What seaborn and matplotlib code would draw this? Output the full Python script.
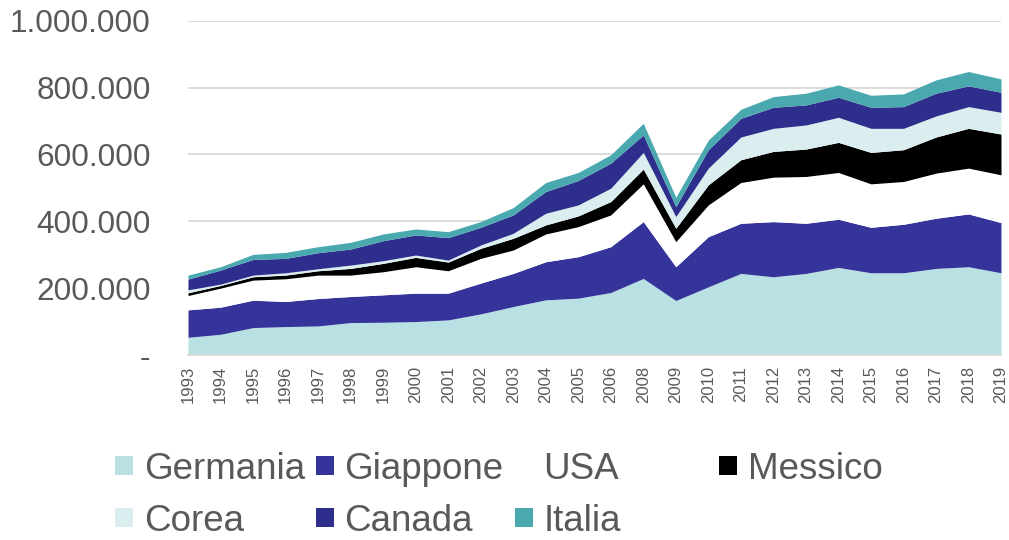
import numpy as np
import pandas as pd
import matplotlib
matplotlib.use('Agg')
import matplotlib.pyplot as plt
import seaborn as sns

# Values in thousands
years = ['1993', '1994', '1995', '1996', '1997', '1998', '1999', '2000', '2001',
         '2002', '2003', '2004', '2005', '2006', '2008', '2009', '2010', '2011',
         '2012', '2013', '2014', '2015', '2016', '2017', '2018', '2019']

germania = [53, 62, 82, 85, 87, 97, 98, 100, 105, 123, 145, 165, 170, 187, 229,
            163, 204, 244, 234, 244, 262, 246, 246, 259, 264, 246]
giappone = [82, 81, 82, 75, 82, 78, 82, 85, 80, 92, 99, 114, 124, 137, 170,
            101, 150, 150, 165, 150, 144, 136, 145, 150, 158, 150]
usa = [43, 57, 60, 68, 70, 64, 69, 79, 67, 74, 70, 83, 90, 95, 113,
       75, 95, 122, 133, 140, 140, 130, 128, 135, 137, 143]
messico = [8, 8, 10, 11, 13, 20, 25, 28, 26, 30, 35, 27, 32, 40, 44,
           40, 60, 68, 77, 82, 90, 94, 95, 108, 119, 122]
corea = [9, 4, 5, 7, 6, 10, 8, 7, 6, 10, 15, 35, 33, 40, 50,
         35, 50, 68, 69, 72, 75, 72, 64, 63, 65, 65]
canada = [32, 42, 47, 43, 48, 48, 60, 60, 67, 53, 55, 65, 73, 75, 52,
          30, 55, 56, 63, 60, 60, 63, 65, 68, 62, 60]
italia = [12, 10, 15, 18, 18, 20, 20, 18, 18, 17, 22, 27, 24, 25, 35,
          28, 29, 27, 32, 35, 37, 36, 38, 40, 43, 40]

countries = ['Germania', 'Giappone', 'USA', 'Messico', 'Corea', 'Canada', 'Italia']
colors = ['#B9E0E3', '#35349A', '#FFFFFF', '#000000', '#DAEEF0', '#2E2E8C', '#4AA8AF']

y_ticks = [0, 200, 400, 600, 800, 1000]
y_tick_labels = ['-', '200.000', '400.000', '600.000', '800.000', '1.000.000']

sns.set_theme(style='white')
plt.rcParams['font.family'] = ['Liberation Sans', 'DejaVu Sans']
text_grey = '#595959'
grid_grey = '#D9D9D9'

data = pd.DataFrame({'Germania': germania, 'Giappone': giappone, 'USA': usa,
                     'Messico': messico, 'Corea': corea, 'Canada': canada,
                     'Italia': italia}, index=years)

fig = plt.figure(figsize=(10.09, 5.4), dpi=100)
ax = fig.add_axes([188 / 1009, 1 - 355 / 540, (1001 - 188) / 1009, (355 - 20.7) / 540])

x = np.arange(len(years))
ax.stackplot(x, *[data[c] for c in countries], colors=colors, labels=countries,
             linewidth=0)

ax.set_xlim(0, len(years) - 1)
ax.set_ylim(0, 1000)
ax.set_yticks(y_ticks)
ax.set_yticklabels(y_tick_labels)
ax.set_xticks(x)
ax.set_xticklabels(years, rotation=90)

ax.set_axisbelow(True)
ax.yaxis.grid(True, color=grid_grey, linewidth=1.3)
ax.xaxis.grid(False)
for side in ['left', 'right', 'top']:
    ax.spines[side].set_visible(False)
ax.spines['bottom'].set_color(grid_grey)
ax.spines['bottom'].set_linewidth(1.3)

ax.tick_params(axis='y', length=0, pad=27, labelsize=22.7, labelcolor=text_grey)
ax.tick_params(axis='x', length=0, pad=8, labelsize=12, labelcolor=text_grey)

# Legend: Excel-like grid of equal columns
handles, labels = ax.get_legend_handles_labels()
hmap = dict(zip(labels, handles))
leg_kw = dict(frameon=False, fontsize=26.5, labelcolor=text_grey, handlelength=0.49,
              handleheight=0.41, handletextpad=0.29, labelspacing=0.45,
              borderpad=0, borderaxespad=0, loc='upper left')
order1 = ['Germania', 'Corea', 'Giappone', 'Canada', 'USA', 'Italia']
fig.legend([hmap[l] for l in order1], order1, ncol=3, columnspacing=0.3,
           bbox_to_anchor=(115 / 1009, 1 - 452 / 540), **leg_kw)
fig.legend([hmap['Messico']], ['Messico'],
           bbox_to_anchor=(719 / 1009, 1 - 452 / 540), **leg_kw)

fig.savefig('out.png', dpi=100)
